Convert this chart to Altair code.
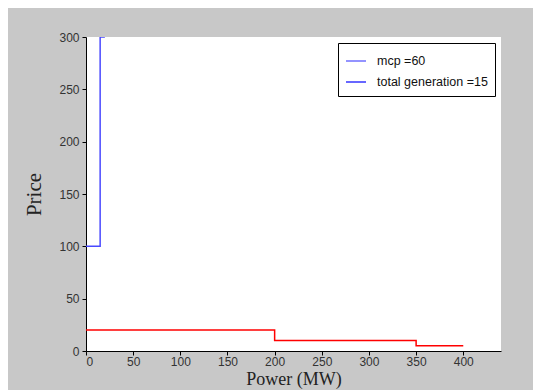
import altair as alt
import pandas as pd

# Blue supply step (clipped at 300)
blue_x = [0, 15, 15, 20]
blue_y = [100, 100, 300, 300]
# Red demand step
red_x = [0, 200, 200, 350, 350, 400]
red_y = [20, 20, 10, 10, 5, 5]
legend_labels = ["mcp =60", "total generation =15"]
x_ticks = [0, 50, 100, 150, 200, 250, 300, 350, 400]
y_ticks = [0, 50, 100, 150, 200, 250, 300]

blue_df = pd.DataFrame({"x": blue_x, "y": blue_y, "order": list(range(len(blue_x))),
                        "series": legend_labels[0]})
red_df = pd.DataFrame({"x": red_x, "y": red_y, "order": list(range(len(red_x)))})

xs = alt.Scale(domain=[0, 440], nice=False, zero=False)
ys = alt.Scale(domain=[0, 300], nice=False, zero=False)

xaxis = alt.Axis(values=x_ticks, title="Power (MW)", grid=False, tickColor="black",
                 domainColor="black", labelColor="#333333", labelFont="Liberation Sans",
                 labelFontSize=12, titleFont="Liberation Serif", titleFontSize=18,
                 titleFontWeight="normal", titleColor="#222222", tickSize=4, labelPadding=1,
                 titlePadding=3)
yaxis = alt.Axis(values=y_ticks, title="Price", grid=False, tickColor="black",
                 domainColor="black", labelColor="#333333", labelFont="Liberation Sans",
                 labelFontSize=12, titleFont="Liberation Serif", titleFontSize=21,
                 titleFontWeight="normal", titleColor="#222222", tickSize=4, labelPadding=3,
                 titlePadding=14)

blue = alt.Chart(blue_df).mark_line(strokeWidth=1.5, clip=True).encode(
    x=alt.X("x:Q", scale=xs, axis=xaxis),
    y=alt.Y("y:Q", scale=ys, axis=yaxis),
    order="order:Q",
    color=alt.Color("series:N",
                    scale=alt.Scale(domain=legend_labels, range=["#4a4aff", "#0000ff"]),
                    legend=alt.Legend(title=None, orient="none", legendX=252, legendY=6,
                                      symbolType="stroke", symbolSize=400,
                                      symbolStrokeWidth=1.2, labelFont="Liberation Sans",
                                      labelFontSize=12.5, labelColor="#111111",
                                      fillColor="white", strokeColor="black",
                                      padding=7, rowPadding=3, labelOffset=10)),
)

red = alt.Chart(red_df).mark_line(strokeWidth=1.5, color="red").encode(
    x=alt.X("x:Q", scale=xs, axis=xaxis),
    y=alt.Y("y:Q", scale=ys, axis=yaxis),
    order="order:Q",
)

chart = alt.layer(red, blue).properties(
    width=415, height=314,
    autosize=alt.AutoSizeParams(type="none"),
    padding={"left": 78, "top": 29, "right": 32, "bottom": 40},
    background="#c8c8c8",
).configure_view(stroke=None, fill="white")

chart.save("out.html", embed_options={"renderer": "svg", "actions": False})
